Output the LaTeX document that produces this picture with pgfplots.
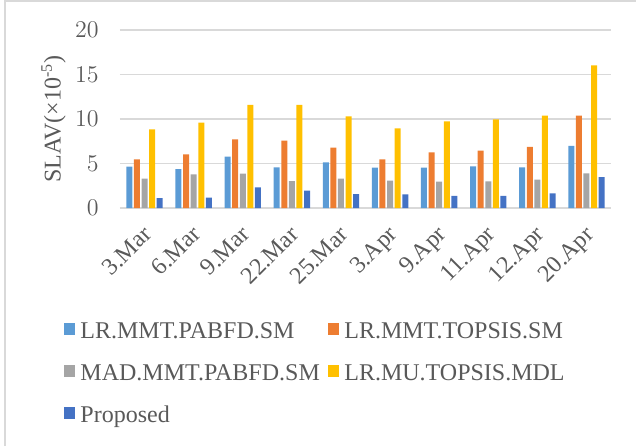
\documentclass[border=0pt,12pt]{standalone}
\usepackage{fontspec}
\setmainfont{Liberation Serif}
\usepackage{pgfplots}
\pgfplotsset{compat=1.18}

\definecolor{sA}{HTML}{5B9BD5}
\definecolor{sB}{HTML}{ED7D31}
\definecolor{sC}{HTML}{A5A5A5}
\definecolor{sD}{HTML}{FFC000}
\definecolor{sE}{HTML}{4472C4}
\definecolor{txt}{HTML}{595959}
\definecolor{grd}{HTML}{D9D9D9}

\newcommand{\chartfont}{\fontsize{12}{14}\selectfont}

\begin{document}
\chartfont
\begin{tikzpicture}
\useasboundingbox (-60pt,-119pt) rectangle (258pt,104pt);
% chart area border
\draw[grd, line width=0.75pt] (-57.5pt,-119pt) -- (-57.5pt,103.5pt) -- (258pt,103.5pt);
\begin{axis}[
  at={(0pt,0pt)}, anchor=south west,
  scale only axis, width=245.5pt, height=89pt,
  ybar=0.8pt, bar width=3pt,
  xmin=-0.5, xmax=9.5, ymin=0, ymax=20,
  ytick={0,5,10,15,20},
  xtick={0,...,9},
  xticklabels={3.Mar,6.Mar,9.Mar,22.Mar,25.Mar,3.Apr,9.Apr,11.Apr,12.Apr,20.Apr},
  axis line style={draw=none},
  major tick length=0pt,
  ymajorgrids, grid style={grd, line width=0.75pt},
  ticklabel style={text=txt, font=\chartfont},
  yticklabel style={anchor=east, xshift=-6.5pt},
  xticklabel style={xshift=-1.5pt, rotate=45, anchor=north east, inner sep=0pt},
  xticklabel shift=8pt,
  ylabel={SLAV(×10\textsuperscript{-5})},
  ylabel style={at={(axis description cs:-0.1354,0.5)}, anchor=center, inner sep=0pt, text=txt, font=\chartfont},
  legend columns=2,
  legend cell align=left,
  legend style={at={(-0.1141,-0.633)}, anchor=north west, draw=none, fill=none,
    font=\chartfont, text=txt,
    inner sep=0pt, outer sep=0pt, column sep=2.5pt, row sep=9pt,
    nodes={inner sep=0pt, text height=9pt, text depth=3pt, text=txt, font=\chartfont},
    /tikz/every even column/.append style={column sep=4pt}},
  every axis plot post/.append style={draw=none,
    legend image code/.code={\fill[##1] (0pt,-1pt) rectangle (5.75pt,4.75pt);}},
]
\addplot[fill=sA] coordinates {(0,4.65) (1,4.38) (2,5.77) (3,4.57) (4,5.13) (5,4.54) (6,4.54) (7,4.69) (8,4.57) (9,6.97)};
\addplot[fill=sB] coordinates {(0,5.47) (1,6.03) (2,7.72) (3,7.57) (4,6.78) (5,5.47) (6,6.26) (7,6.45) (8,6.86) (9,10.38)};
\addplot[fill=sC] coordinates {(0,3.30) (1,3.79) (2,3.86) (3,3.03) (4,3.30) (5,3.07) (6,2.96) (7,2.99) (8,3.19) (9,3.90)};
\addplot[fill=sD] coordinates {(0,8.84) (1,9.60) (2,11.60) (3,11.60) (4,10.30) (5,8.96) (6,9.74) (7,9.97) (8,10.38) (9,16.03)};
\addplot[fill=sE] coordinates {(0,1.12) (1,1.17) (2,2.33) (3,1.95) (4,1.57) (5,1.54) (6,1.35) (7,1.35) (8,1.65) (9,3.48)};
\addlegendentry{\chartfont LR.MMT.PABFD.SM}
\addlegendentry{\chartfont LR.MMT.TOPSIS.SM}
\addlegendentry{\chartfont MAD.MMT.PABFD.SM}
\addlegendentry{\chartfont LR.MU.TOPSIS.MDL}
\addlegendentry{\chartfont Proposed}
\end{axis}
\end{tikzpicture}
\end{document}
